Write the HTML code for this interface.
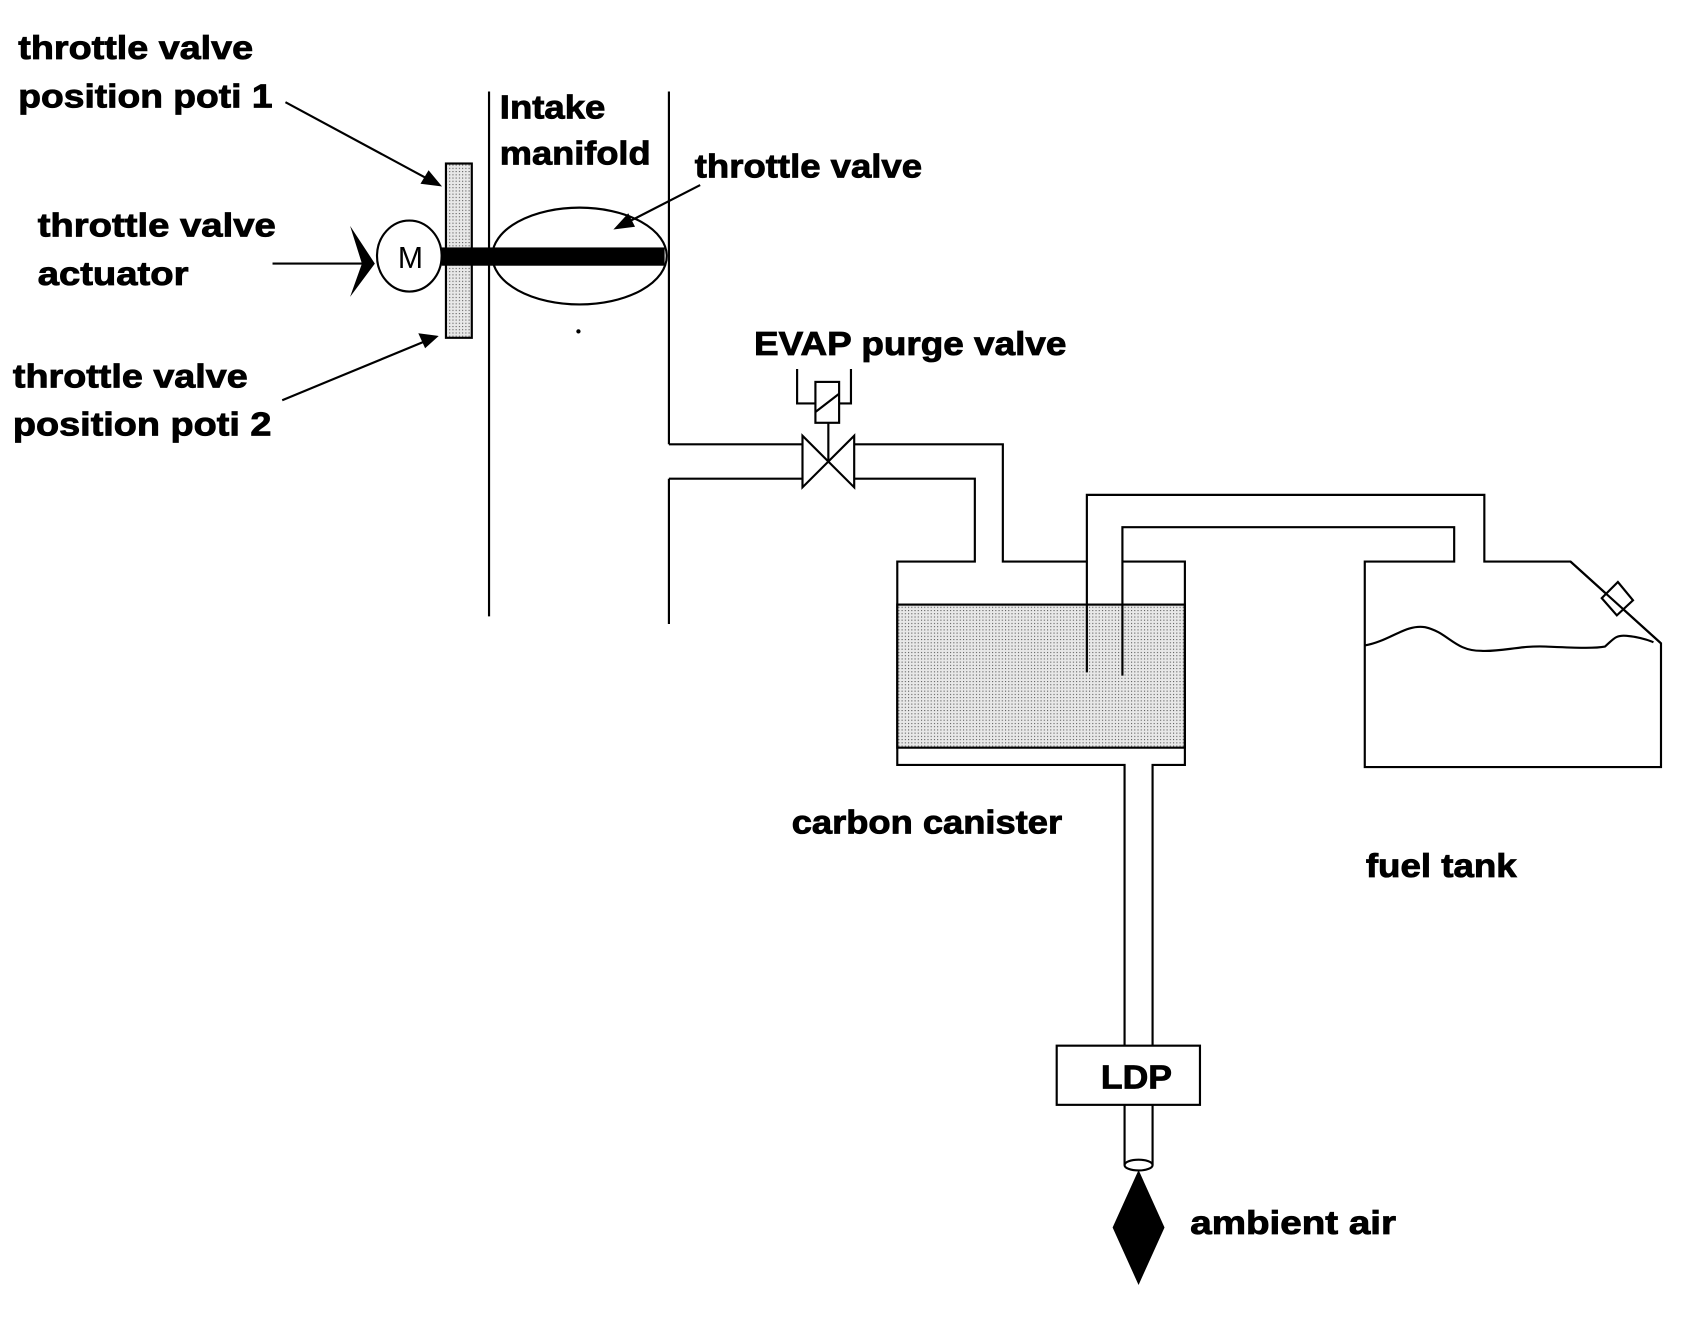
<!DOCTYPE html>
<html><head><meta charset="utf-8"><style>
html,body{margin:0;padding:0;background:#fff;}
svg{display:block;}
text{font-family:"Liberation Sans",sans-serif;font-weight:bold;font-size:31px;fill:#000;stroke:#000;stroke-width:0.8px;}
</style></head><body>
<svg width="1689" height="1320" viewBox="0 0 1568 1227" preserveAspectRatio="none" xmlns="http://www.w3.org/2000/svg">
<defs>
<pattern id="dots" width="3" height="3" patternUnits="userSpaceOnUse">
<rect width="3" height="3" fill="#e8e8e8"/><rect width="1" height="1" fill="#555"/>
</pattern>
</defs>
<g stroke="#000" stroke-width="2" fill="none">
<line x1="265" y1="95" x2="404" y2="170"/>
<polygon points="408,172 392,170 398,160" fill="#000"/>
<line x1="262" y1="372" x2="400" y2="315"/>
<polygon points="405,313 390,311 395,322" fill="#000"/>
<line x1="650" y1="172" x2="578" y2="209"/>
<polygon points="572,212 583,200 588,210" fill="#000"/>
<rect x="414" y="152" width="24" height="162" fill="url(#dots)"/>
<ellipse cx="380" cy="238" rx="30" ry="33" fill="#fff"/>
<line x1="253" y1="245" x2="340" y2="245"/>
<polygon points="325,210 348,245 325,276 336,245" fill="#000" stroke="none"/>
<line x1="454" y1="85" x2="454" y2="573"/>
<line x1="621" y1="85" x2="621" y2="413"/>
<line x1="621" y1="445" x2="621" y2="580"/>
<ellipse cx="538" cy="238" rx="81" ry="45"/>
<rect x="410" y="230" width="207" height="17" fill="#000" stroke="none"/>
<circle cx="537" cy="308" r="1" fill="#000"/>
<polyline points="621,413 745,413"/>
<polyline points="621,445 745,445"/>
<polyline points="793,413 931,413 931,522 1009,522"/>
<polyline points="793,445 905,445 905,522 833,522 833,711 1044,711 1044,972"/>
<polygon points="745,405 745,453 793,405 793,453" fill="#fff"/>
<line x1="769" y1="393" x2="769" y2="429"/>
<rect x="757" y="355" width="22" height="38" fill="#fff"/>
<line x1="757" y1="383" x2="779" y2="366"/>
<polyline points="740,343 740,375 757,375"/>
<polyline points="790,343 790,375 779,375"/>
<rect x="833" y="562" width="267" height="133" fill="url(#dots)"/>
<polyline points="1042,522 1100,522 1100,711 1070,711 1070,972"/>
<polyline points="1009,625 1009,460 1378,460 1378,522 1458,522 1542,598 1542,713 1267,713 1267,522 1350,522 1350,490 1042,490 1042,628"/>
<path d="M1267,600 C1290,596 1305,580 1323,583 C1345,588 1350,605 1375,605 C1395,606 1410,600 1435,601 C1460,602 1480,603 1490,601 C1498,594 1500,590 1510,591 C1520,592 1528,594 1535,597"/>
<polygon points="1487,556 1502,541 1516,558 1501,572" fill="#fff"/>
<line x1="1458" y1="522" x2="1542" y2="598"/>
<rect x="981" y="972" width="133" height="55" fill="#fff"/>
<line x1="1044" y1="1027" x2="1044" y2="1083"/>
<line x1="1070" y1="1027" x2="1070" y2="1083"/>
<ellipse cx="1057" cy="1083" rx="13" ry="5" fill="#fff"/>
<polygon points="1057,1090 1080,1141 1057,1192 1034,1141" fill="#000"/>
</g>
<text x="381" y="249" text-anchor="middle" style="font-weight:normal;font-size:28px;stroke:none">M</text>
<text x="17" y="55" textLength="218" lengthAdjust="spacingAndGlyphs">throttle valve</text>
<text x="17" y="100" textLength="236" lengthAdjust="spacingAndGlyphs">position poti 1</text>
<text x="35" y="220" textLength="221" lengthAdjust="spacingAndGlyphs">throttle valve</text>
<text x="35" y="265" textLength="140" lengthAdjust="spacingAndGlyphs">actuator</text>
<text x="12" y="360" textLength="218" lengthAdjust="spacingAndGlyphs">throttle valve</text>
<text x="12" y="405" textLength="240" lengthAdjust="spacingAndGlyphs">position poti 2</text>
<text x="464" y="110" textLength="98" lengthAdjust="spacingAndGlyphs">Intake</text>
<text x="464" y="153" textLength="140" lengthAdjust="spacingAndGlyphs">manifold</text>
<text x="645" y="165" textLength="211" lengthAdjust="spacingAndGlyphs">throttle valve</text>
<text x="700" y="330" textLength="290" lengthAdjust="spacingAndGlyphs">EVAP purge valve</text>
<text x="735" y="775" textLength="251" lengthAdjust="spacingAndGlyphs">carbon canister</text>
<text x="1268" y="815" textLength="140" lengthAdjust="spacingAndGlyphs">fuel tank</text>
<text x="1022" y="1012" textLength="66" lengthAdjust="spacingAndGlyphs">LDP</text>
<text x="1105" y="1147" textLength="191" lengthAdjust="spacingAndGlyphs">ambient air</text>
</svg>
</body></html>
